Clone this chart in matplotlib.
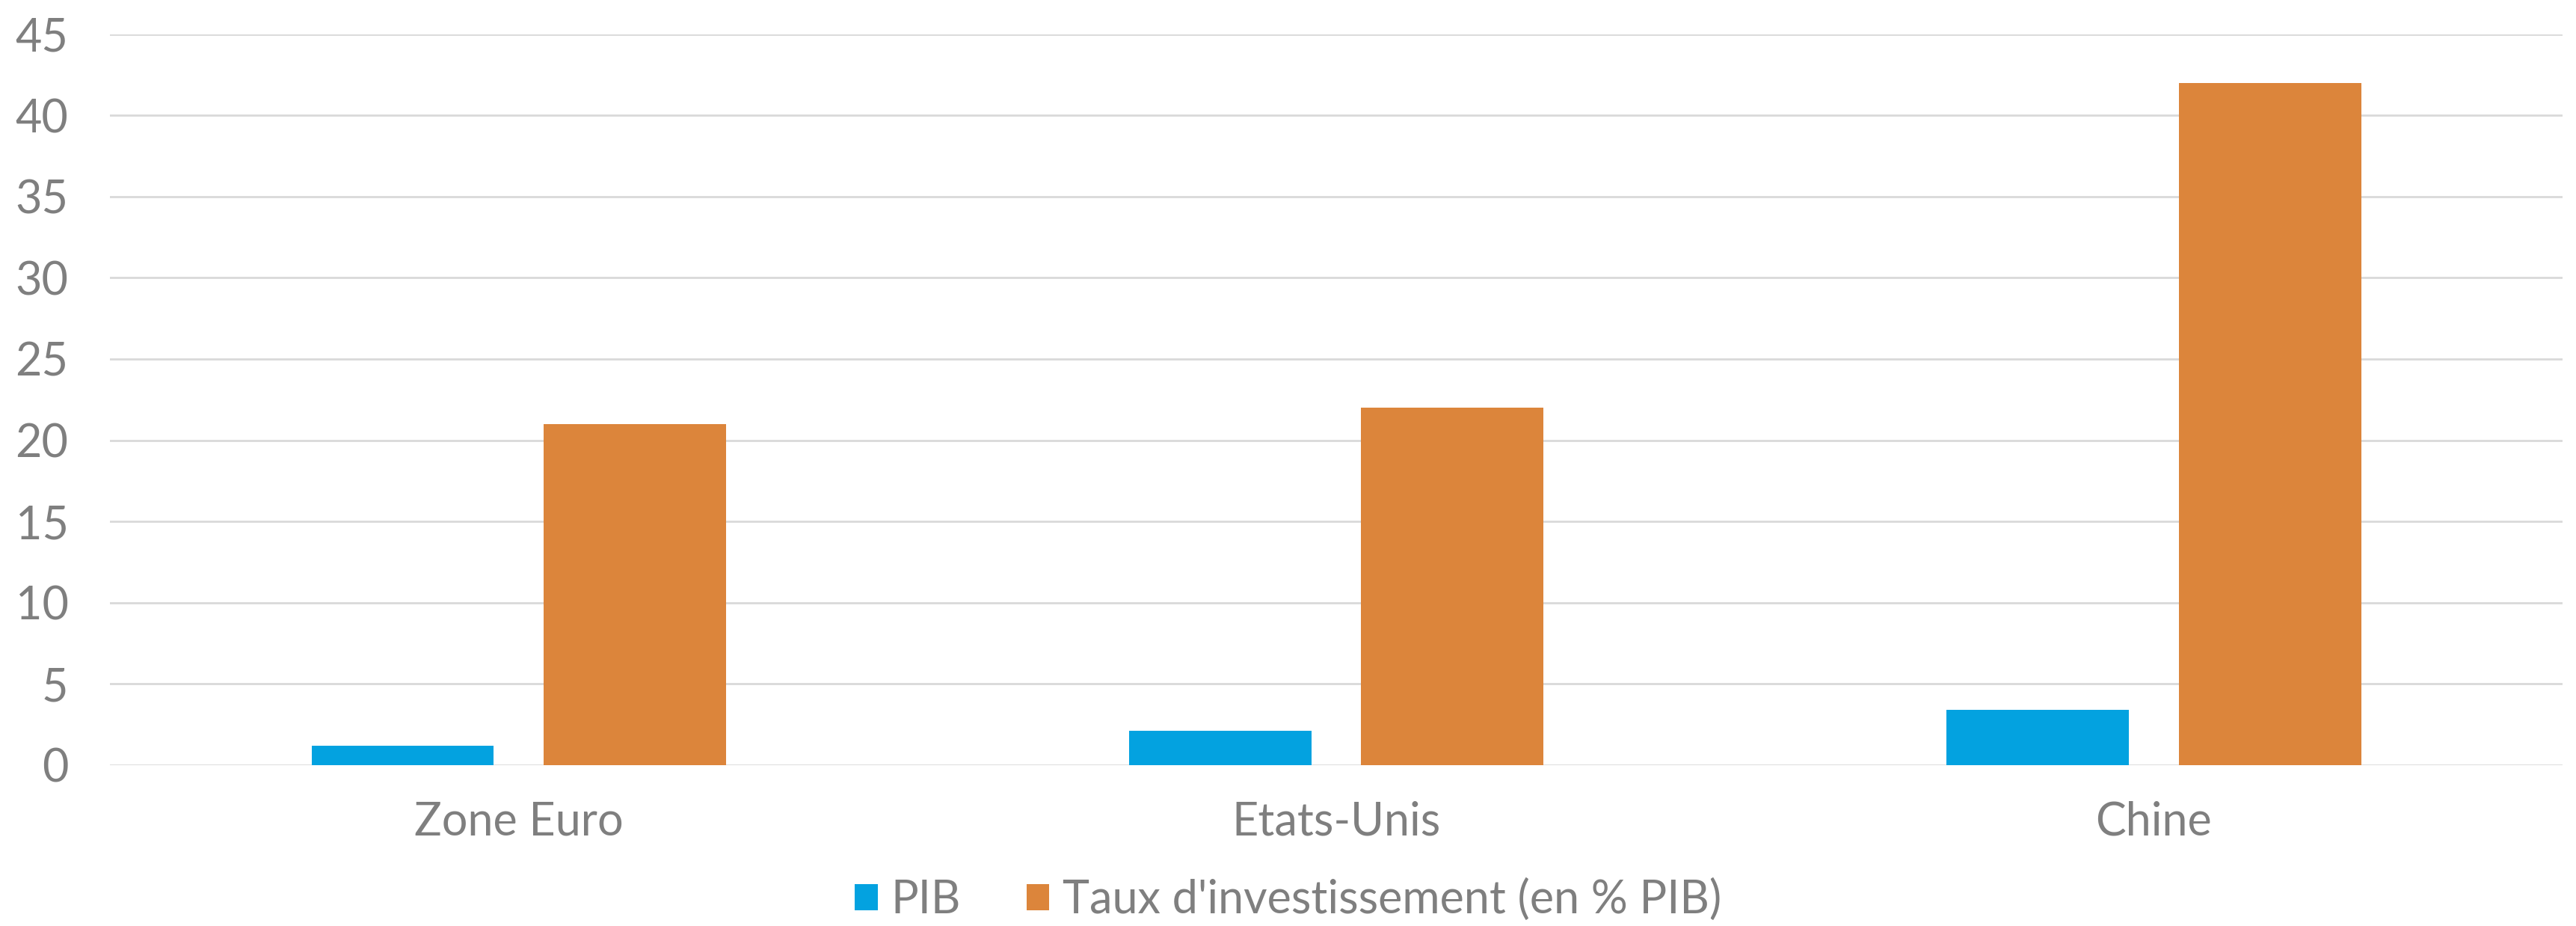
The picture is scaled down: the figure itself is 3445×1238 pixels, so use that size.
import numpy as np
import matplotlib
matplotlib.use('Agg')
import matplotlib.pyplot as plt

matplotlib.rcParams.update({'font.family': ['Lato', 'DejaVu Sans'], 'font.size': 44})

# data
regions = ['Zone Euro', 'Etats-Unis', 'Chine']
pib = [1.2, 2.1, 3.4]
taux_invest = [21, 22, 42]
series_names = ['PIB', "Taux d'investissement (en % PIB)"]
y_ticks = [0, 5, 10, 15, 20, 25, 30, 35, 40, 45]

blue = '#03a2e0'
orange = '#dc853b'
grey_txt = '#7f7f7f'
grid_col = '#d9d9d9'


def plot_bars(ax, x, width, offset):
	ax.bar(x - offset, pib, width, color=blue, label=series_names[0], zorder=3)
	ax.bar(x + offset, taux_invest, width, color=orange, label=series_names[1], zorder=3)


fig = plt.figure(figsize=(34.45, 12.38), dpi=100)
ax = fig.add_axes([0.0427, 0.1737, 0.9521, 0.7895])

x = np.arange(len(regions))
plot_bars(ax, x, 0.223, 0.142)

ax.set_xlim(-0.5, len(regions) - 0.5)
ax.set_ylim(0, 45)
ax.set_yticks(y_ticks)
ax.set_xticks(x)
ax.set_xticklabels(regions)
ax.tick_params(axis='both', length=0, colors=grey_txt, labelsize=44)
ax.tick_params(axis='y', pad=40)
ax.tick_params(axis='x', pad=34)

ax.grid(axis='y', color=grid_col, lw=2, zorder=0)
ax.set_axisbelow(True)
for s in ax.spines.values():
	s.set_visible(False)

leg = fig.legend(loc='center', bbox_to_anchor=(0.5, 0.028), ncol=2, frameon=False,
	fontsize=44, handlelength=0.5, handleheight=0.5, handletextpad=0.28,
	columnspacing=1.45, labelcolor=grey_txt)

fig.savefig('out.png', dpi=100, facecolor='white')
